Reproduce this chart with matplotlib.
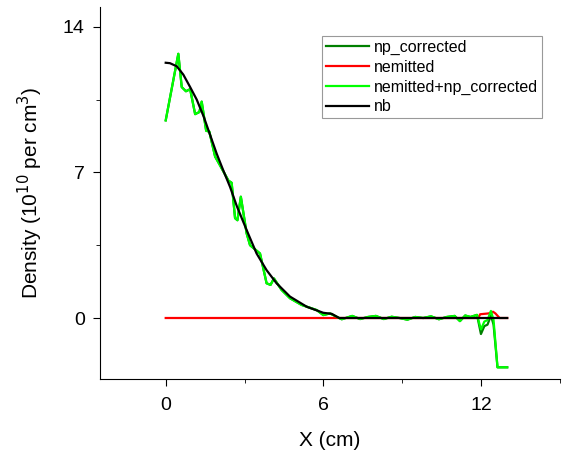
import matplotlib
matplotlib.use("Agg")
import matplotlib.pyplot as plt
from matplotlib.ticker import MultipleLocator

plt.rcParams['font.family'] = ['Liberation Sans', 'DejaVu Sans']

# nb (black, smooth profile)
nb_x = [0.0, 0.16, 0.42, 0.67, 0.93, 1.18, 1.44, 1.69, 1.94, 2.19, 2.45, 2.7,
        3.08, 3.46, 3.84, 4.22, 4.73, 5.37, 6.0, 6.32, 6.6, 7.5, 9.0, 10.5, 12.0, 13.0]
nb_y = [12.27, 12.25, 12.1, 11.7, 11.1, 10.5, 9.7, 8.8, 7.9, 7.1, 6.3, 5.4,
        4.23, 3.1, 2.3, 1.67, 1.03, 0.54, 0.25, 0.2, 0.0, 0.0, 0.0, 0.0, 0.0, 0.0]

# nemitted+np_corrected (light green, noisy)
sum_x = [0.0, 0.48, 0.61, 0.77, 0.93, 1.12, 1.28, 1.37, 1.54, 1.66, 1.88, 2.04,
         2.39, 2.51, 2.64, 2.73, 2.86, 3.08, 3.21, 3.59, 3.84, 3.99, 4.12, 4.41,
         4.73, 5.17, 5.75, 6.0, 6.25, 6.7, 6.85, 7.1, 7.4, 7.7, 8.0, 8.3, 8.6,
         8.9, 9.2, 9.5, 9.8, 10.1, 10.4, 10.7, 11.0, 11.2, 11.4, 11.6, 11.85,
         12.0, 12.13, 12.25, 12.38, 12.48, 12.63, 13.0]
sum_y = [9.5, 12.7, 11.1, 10.9, 11.0, 9.8, 9.9, 10.4, 9.0, 8.96, 7.76, 7.4,
         6.6, 6.5, 4.8, 4.7, 5.83, 4.07, 3.5, 3.1, 1.67, 1.59, 1.9, 1.35,
         0.95, 0.63, 0.38, 0.14, 0.22, -0.06, 0.0, 0.1, -0.05, 0.05, 0.1, -0.05,
         0.06, 0.0, -0.08, 0.05, 0.0, 0.08, -0.06, 0.05, 0.1, -0.15, 0.12, 0.05,
         0.15, -0.55, -0.17, -0.1, 0.34, -0.1, -2.37, -2.37]

# nemitted (red)
em_x = [0.0, 11.9, 11.97, 12.29, 12.46, 12.55, 12.71, 13.0]
em_y = [0.0, 0.0, 0.18, 0.22, 0.3, 0.22, 0.0, 0.0]

# np_corrected (dark green) = sum - nemitted, only differs near the end
np_x = sum_x
np_y = [s - (0.22 if 12.0 <= x <= 12.5 else 0.0) for x, s in zip(sum_x, sum_y)]

fig = plt.figure(figsize=(5.62, 4.53), dpi=100)
ax = fig.add_axes([0.178, 0.163, 0.818, 0.822])

ax.plot(np_x, np_y, color='#007f00', lw=1.6, label='np_corrected')
ax.plot(em_x, em_y, color='#ff0000', lw=1.6, label='nemitted')
ax.plot(sum_x, sum_y, color='#00ff00', lw=1.6, label='nemitted+np_corrected')
ax.plot(nb_x, nb_y, color='black', lw=1.6, label='nb')

ax.set_xlim(-2.5, 15.0)
ax.set_ylim(-2.94, 14.96)
ax.xaxis.set_major_locator(MultipleLocator(6))
ax.xaxis.set_minor_locator(MultipleLocator(3))
ax.yaxis.set_major_locator(MultipleLocator(7))
ax.yaxis.set_minor_locator(MultipleLocator(3.5))
ax.tick_params(which='major', direction='out', length=5, labelsize=14)
ax.tick_params(which='minor', direction='out', length=3)
ax.tick_params(axis='x', which='major', pad=8)
ax.tick_params(axis='y', which='major', pad=6)

for s in ['top', 'right']:
    ax.spines[s].set_visible(False)

ax.set_xlabel('X (cm)', fontsize=15, labelpad=12)
ax.set_ylabel('Density (10$^{10}$ per cm$^{3}$)', fontsize=15, labelpad=13)

leg = ax.legend(loc='upper right', bbox_to_anchor=(0.961, 0.922), fontsize=11.5,
                frameon=True, fancybox=False, edgecolor='#808080',
                handlelength=2.7, labelspacing=0.3, borderpad=0.25,
                handletextpad=0.3, borderaxespad=0)
leg.get_frame().set_linewidth(0.8)

fig.savefig('out.png', dpi=100)
